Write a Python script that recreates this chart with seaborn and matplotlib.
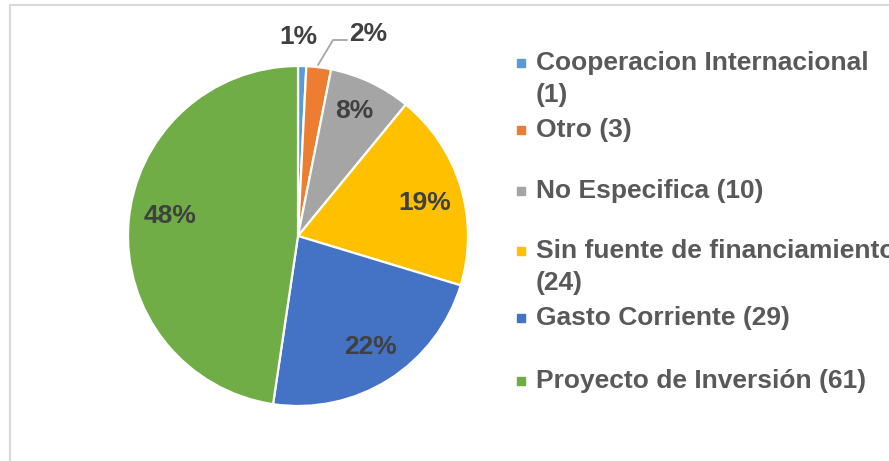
import matplotlib
matplotlib.use("Agg")
import matplotlib.pyplot as plt
from matplotlib.patches import Rectangle
import numpy as np
import seaborn as sns

# data
categories = ['Cooperacion Internacional\n(1)', 'Otro (3)', 'No Especifica (10)',
              'Sin fuente de financiamiento\n(24)', 'Gasto Corriente (29)',
              'Proyecto de Inversión (61)']
counts = [1, 3, 10, 24, 29, 61]
pct_labels = ['1%', '2%', '8%', '19%', '22%', '48%']
colors = ['#5B9BD5', '#ED7D31', '#A5A5A5', '#FFC000', '#4472C4', '#70AD47']

sns.set_theme(style="white")
plt.rcParams['font.family'] = ['Liberation Sans', 'DejaVu Sans']

W, H = 889, 461
fig = plt.figure(figsize=(W / 100, H / 100), dpi=100)

# pie area: centre (298, 236) px, radius 170 px
cx, cy, r = 298, 236, 170
ax = fig.add_axes([(cx - r) / W, (H - cy - r) / H, 2 * r / W, 2 * r / H])
wedges, _ = ax.pie(counts, colors=sns.color_palette(colors), startangle=90,
                   counterclock=False, radius=1,
                   wedgeprops=dict(edgecolor='white', linewidth=1.6))
ax.set_xlim(-1, 1)
ax.set_ylim(-1, 1)
ax.set_aspect('equal')
ax.axis('off')

lab_dist = [1.17, 1.26, 0.81, 0.77, 0.78, 0.76]
lab_shift = [-1.4, 12, -1, 2.3, -0.6, 4.8]  # angular nudge in degrees
for w, txt, d, s in zip(wedges, pct_labels, lab_dist, lab_shift):
    ang = np.deg2rad((w.theta1 + w.theta2) / 2 - s)
    ax.text(d * np.cos(ang), d * np.sin(ang), txt, ha='center', va='center',
            fontsize=19, fontweight='bold', color='#404040')

# leader line for the 2% label (pixel path -> axes units)
lx = np.array([318, 333, 347])
ly = np.array([65, 40, 40])
ax.plot((lx - cx) / r, (cy - ly) / r, color='#A6A6A6', lw=1.3, clip_on=False)

# legend drawn by hand to keep Excel's spacing
entry_y = [63, 130, 191, 251, 318, 381]
for lab, col, y in zip(categories, colors, entry_y):
    fig.patches.append(Rectangle((517 / W, 1 - (y + 4) / H), 8 / W, 8 / H,
                                 transform=fig.transFigure, color=col))
    for i, line in enumerate(lab.split('\n')):
        fig.text(536 / W, 1 - (y + i * 32) / H, line, ha='left', va='center',
                 fontsize=19, fontweight='bold', color='#595959')

# chart border
fig.patches.append(Rectangle((9.5 / W, -0.1), 1.2, 1 - 5.5 / H + 0.1,
                             transform=fig.transFigure, fill=False,
                             edgecolor='#D9D9D9', lw=1.5))

fig.savefig('out.png', dpi=100)
